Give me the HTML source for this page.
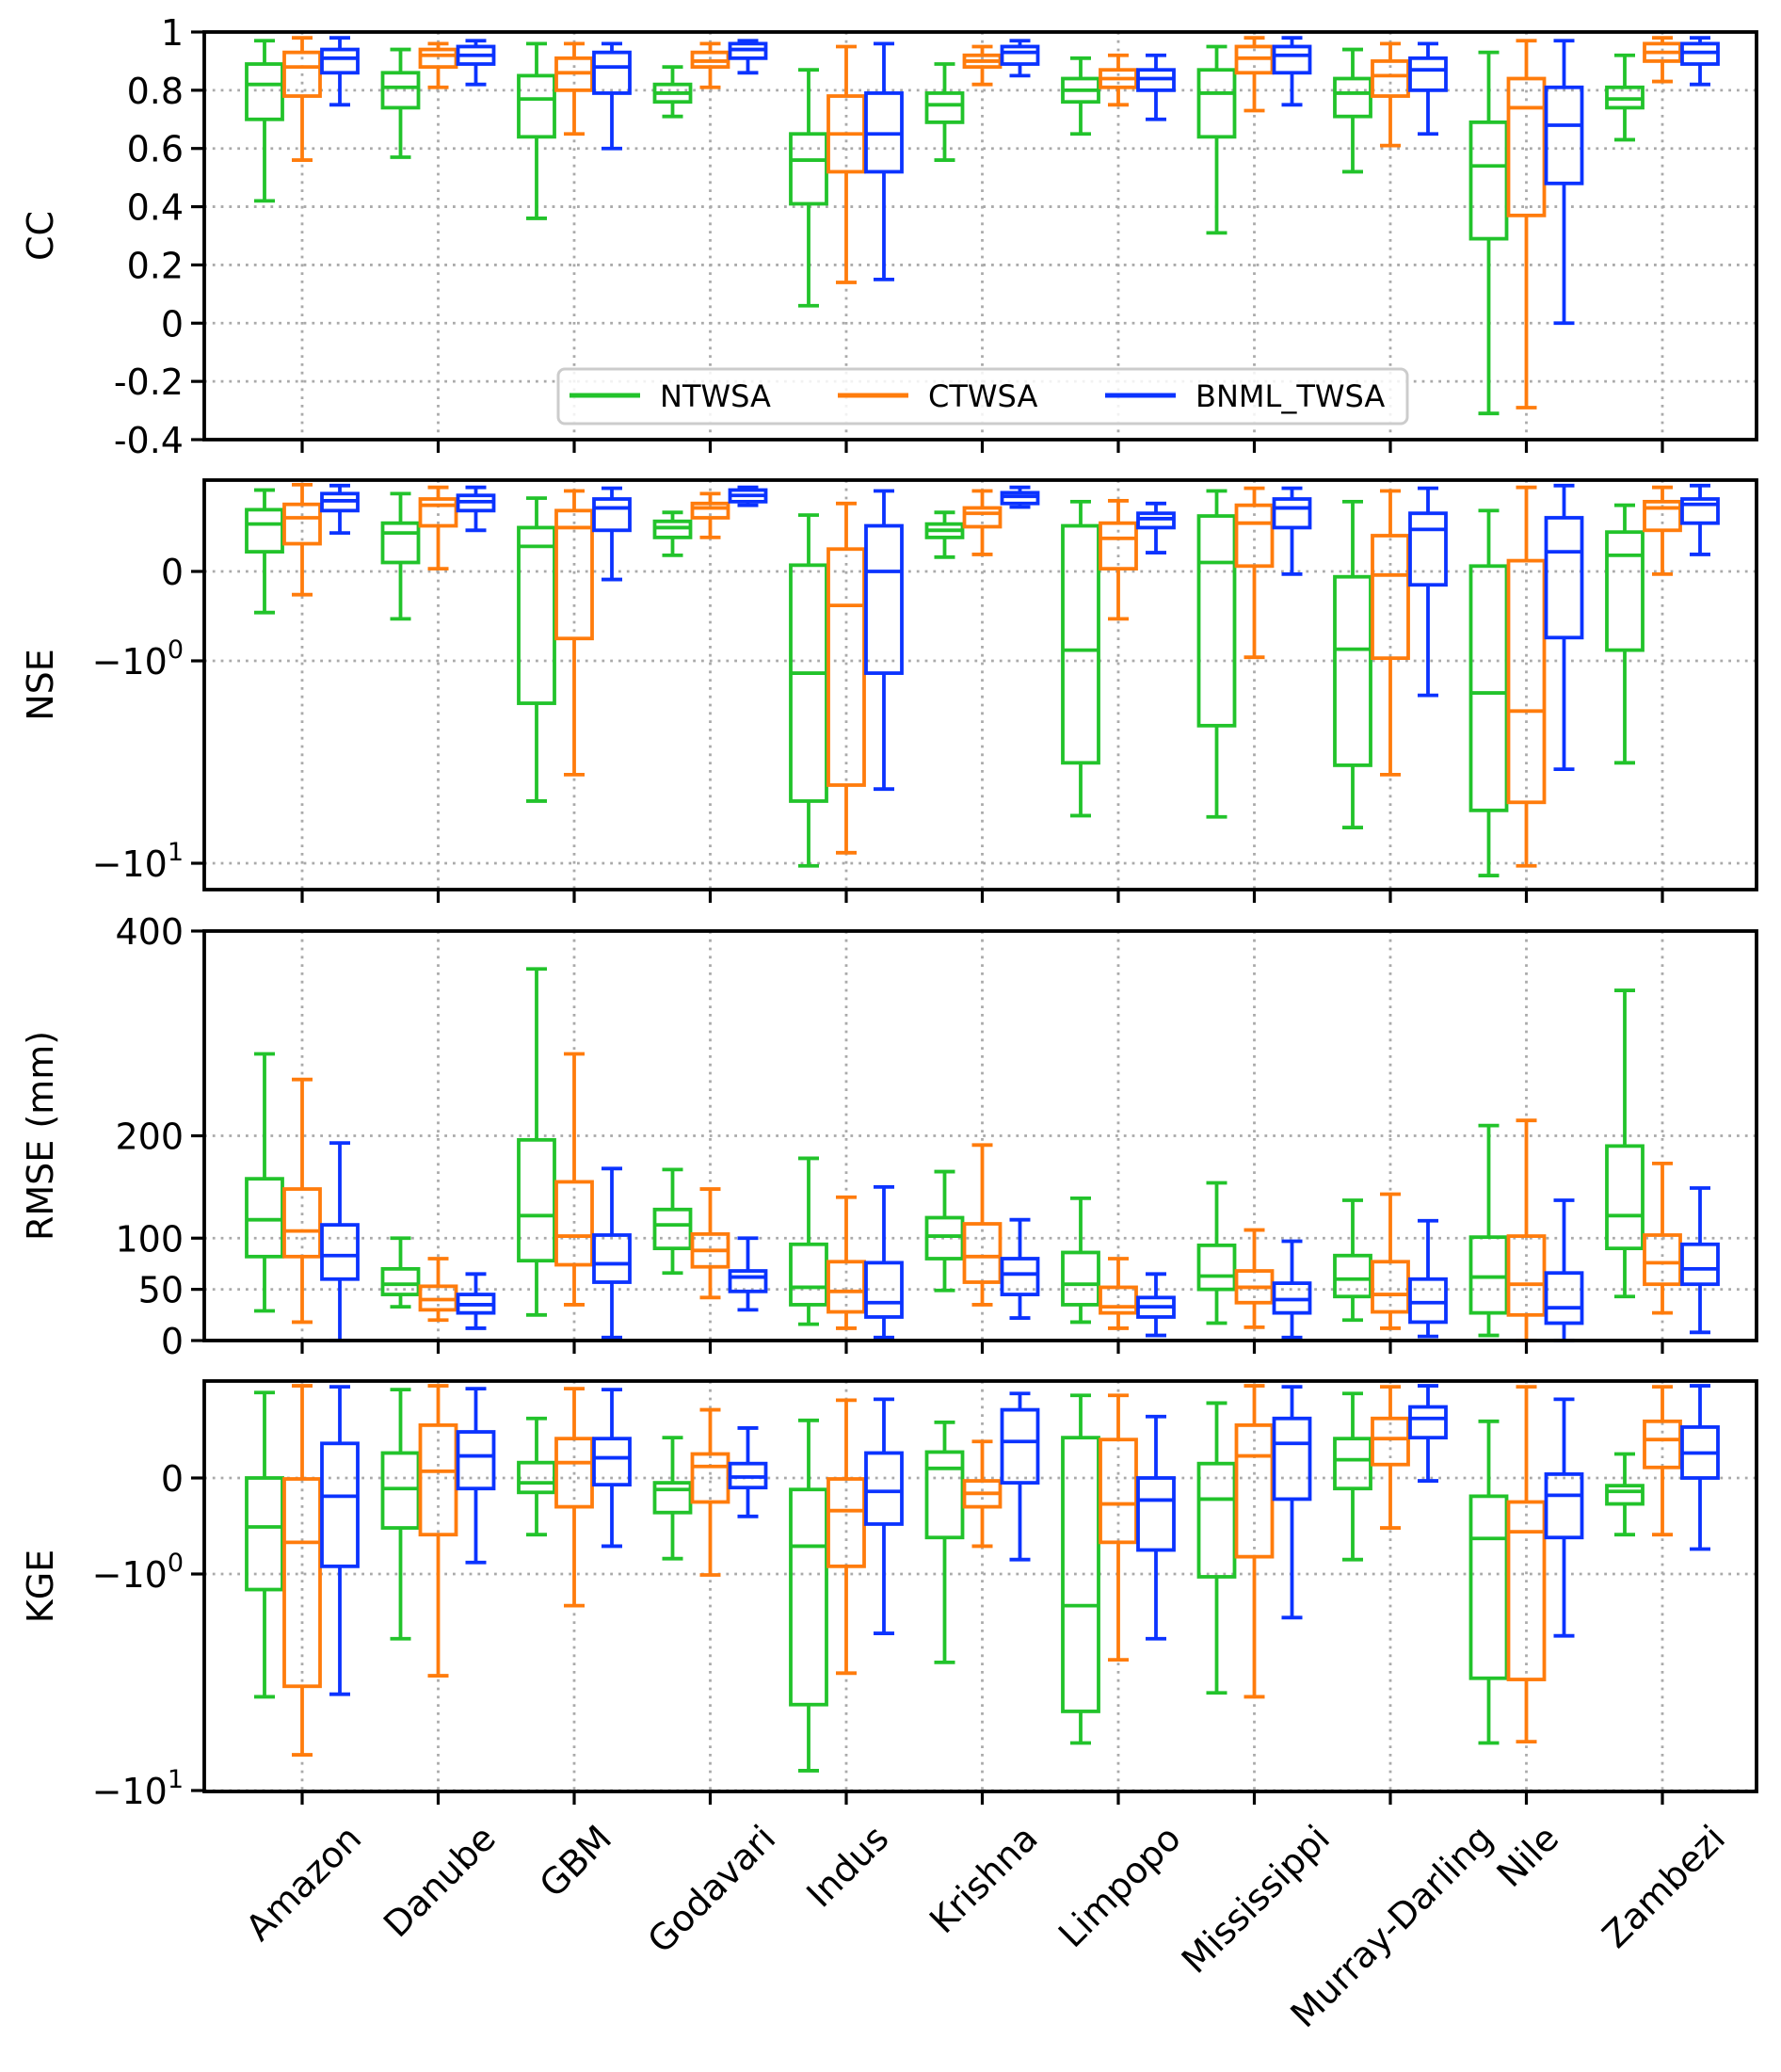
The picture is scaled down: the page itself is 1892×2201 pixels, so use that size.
<!DOCTYPE html>
<html><head><meta charset="utf-8"><style>
html,body{margin:0;padding:0;background:#fff}
svg{display:block;font-family:"DejaVu Sans","Liberation Sans",sans-serif}
</style></head><body>
<svg id="chart" width="1892" height="2201" viewBox="0 0 1892 2201" xmlns="http://www.w3.org/2000/svg"></svg>
<script>
const categories=["Amazon","Danube","GBM","Godavari","Indus","Krishna","Limpopo","Mississippi","Murray-Darling","Nile","Zambezi"];
const seriesNames=["NTWSA","CTWSA","BNML_TWSA"];
// each entry: [whiskerLow, q1, median, q3, whiskerHigh]
const ccNTWSA=[[0.42,0.70,0.82,0.89,0.97],[0.57,0.74,0.81,0.86,0.94],[0.36,0.64,0.77,0.85,0.96],[0.71,0.76,0.79,0.82,0.88],[0.06,0.41,0.56,0.65,0.87],[0.56,0.69,0.75,0.79,0.89],[0.65,0.76,0.80,0.84,0.91],[0.31,0.64,0.79,0.87,0.95],[0.52,0.71,0.79,0.84,0.94],[-0.31,0.29,0.54,0.69,0.93],[0.63,0.74,0.77,0.81,0.92]];
const ccCTWSA=[[0.56,0.78,0.88,0.93,0.98],[0.81,0.88,0.92,0.94,0.96],[0.65,0.80,0.86,0.91,0.96],[0.81,0.88,0.90,0.93,0.96],[0.14,0.52,0.65,0.78,0.95],[0.82,0.88,0.90,0.92,0.95],[0.75,0.81,0.84,0.87,0.92],[0.73,0.86,0.91,0.95,0.98],[0.61,0.78,0.85,0.90,0.96],[-0.29,0.37,0.74,0.84,0.97],[0.83,0.90,0.93,0.96,0.98]];
const ccBNML=[[0.75,0.86,0.91,0.94,0.98],[0.82,0.89,0.92,0.95,0.97],[0.60,0.79,0.88,0.93,0.96],[0.86,0.91,0.94,0.96,0.97],[0.15,0.52,0.65,0.79,0.96],[0.85,0.89,0.93,0.95,0.97],[0.70,0.80,0.84,0.87,0.92],[0.75,0.86,0.92,0.95,0.98],[0.65,0.80,0.87,0.91,0.96],[0.00,0.48,0.68,0.81,0.97],[0.82,0.89,0.93,0.96,0.98]];
const nseNTWSA=[[-0.46,0.22,0.53,0.69,0.91],[-0.53,0.10,0.43,0.54,0.87],[-4.93,-1.62,0.28,0.49,0.82],[0.18,0.38,0.49,0.56,0.66],[-10.3,-4.93,-1.15,0.07,0.63],[0.16,0.38,0.46,0.53,0.66],[-5.82,-3.19,-0.88,0.51,0.78],[-5.9,-2.09,0.10,0.62,0.90],[-6.66,-3.28,-0.87,-0.06,0.78],[-11.5,-5.48,-1.44,0.06,0.68],[-3.19,-0.88,0.18,0.44,0.74]];
const nseCTWSA=[[-0.26,0.31,0.60,0.75,0.97],[0.03,0.51,0.74,0.81,0.94],[-3.65,-0.75,0.49,0.68,0.90],[0.38,0.60,0.71,0.76,0.87],[-8.87,-4.11,-0.38,0.25,0.76],[0.19,0.50,0.65,0.71,0.90],[-0.53,0.03,0.37,0.54,0.79],[-0.96,0.06,0.54,0.74,0.93],[-3.65,-0.97,-0.04,0.40,0.90],[-10.3,-5.0,-1.77,0.12,0.94],[-0.03,0.46,0.71,0.78,0.94]];
const nseBNML=[[0.43,0.68,0.79,0.87,0.96],[0.46,0.68,0.78,0.85,0.94],[-0.09,0.46,0.71,0.81,0.93],[0.74,0.78,0.85,0.91,0.94],[-4.30,-1.15,0.0,0.51,0.90],[0.72,0.76,0.84,0.88,0.94],[0.21,0.49,0.59,0.65,0.76],[-0.03,0.49,0.71,0.81,0.93],[-1.48,-0.15,0.47,0.65,0.93],[-3.43,-0.74,0.22,0.60,0.96],[0.19,0.54,0.75,0.81,0.96]];
const rmseNTWSA=[[29,82,118,158,280],[33,45,55,70,100],[25,78,122,196,363],[66,90,113,128,167],[16,35,52,94,178],[49,80,102,120,165],[18,35,55,86,139],[17,50,63,93,154],[20,43,60,83,137],[5,27,62,101,210],[43,90,122,190,342]];
const rmseCTWSA=[[18,82,107,148,255],[20,30,40,53,80],[35,74,102,155,280],[42,72,88,104,148],[12,28,48,77,140],[35,57,82,114,191],[12,27,33,52,80],[13,37,52,68,108],[12,28,45,77,143],[0,25,55,102,215],[27,55,76,103,173]];
const rmseBNML=[[0,60,83,113,193],[12,27,35,45,65],[3,57,75,103,168],[30,48,62,68,100],[3,23,37,76,150],[22,45,65,80,118],[5,23,33,42,65],[3,27,40,56,97],[4,18,37,60,117],[0,17,32,66,137],[8,55,70,94,149]];
const kgeNTWSA=[[-3.69,-1.18,-0.51,0,0.89],[-1.99,-0.52,-0.11,0.26,0.92],[-0.59,-0.15,-0.05,0.16,0.62],[-0.84,-0.36,-0.12,-0.05,0.42],[-8.1,-4.01,-0.71,-0.12,0.60],[-2.56,-0.62,0.10,0.27,0.58],[-6.03,-4.31,-1.40,0.42,0.86],[-3.54,-1.03,-0.22,0.15,0.78],[-0.85,-0.11,0.19,0.41,0.88],[-6.03,-3.03,-0.63,-0.19,0.59],[-0.59,-0.27,-0.14,-0.08,0.25]];
const kgeCTWSA=[[-6.84,-3.30,-0.67,-0.01,0.96],[-2.95,-0.59,0.07,0.55,0.96],[-1.40,-0.30,0.16,0.41,0.93],[-1.01,-0.25,0.12,0.25,0.71],[-2.87,-0.92,-0.34,-0.01,0.81],[-0.71,-0.30,-0.16,-0.03,0.38],[-2.49,-0.67,-0.27,0.40,0.86],[-3.69,-0.82,0.23,0.55,0.96],[-0.52,0.14,0.41,0.62,0.95],[-5.95,-3.07,-0.56,-0.25,0.95],[-0.59,0.11,0.40,0.59,0.95]];
const kgeBNML=[[-3.59,-0.92,-0.19,0.36,0.95],[-0.88,-0.11,0.23,0.48,0.93],[-0.71,-0.07,0.21,0.41,0.92],[-0.40,-0.10,0.01,0.15,0.52],[-1.88,-0.48,-0.14,0.26,0.82],[-0.85,-0.05,0.38,0.71,0.88],[-1.99,-0.75,-0.23,0,0.64],[-1.59,-0.22,0.36,0.62,0.95],[-0.03,0.42,0.62,0.74,0.96],[-1.93,-0.62,-0.18,0.04,0.82],[-0.74,0,0.26,0.53,0.96]];
const ccTicks=[1,0.8,0.6,0.4,0.2,0,-0.2,-0.4];
const ccTickLabels=["1","0.8","0.6","0.4","0.2","0","-0.2","-0.4"];
const rmseTicks=[0,50,100,200,400];
const rmseTickLabels=["0","50","100","200","400"];
const symTicks=[0,-1,-10];

const NS="http://www.w3.org/2000/svg";
const svg=document.getElementById('chart');
const colors=["#22c32b","#ff7c0c","#0b33ff"];
const L=217,R=1866;
function mk(tag,attrs,parent){const e=document.createElementNS(NS,tag);for(const k in attrs)e.setAttribute(k,attrs[k]);(parent||svg).appendChild(e);return e;}
function xCat(i){return 321+i*144.5;}
function symlog(y0,unit,dec){return v=>{if(v>=-1)return y0-v*unit;return y0+unit+dec*Math.log10(-v);};}
const panels=[
 {name:"cc",label:"CC",top:34,bot:467,y:v=>34+(1-v)*(433/1.4),ticks:ccTicks,labels:ccTickLabels,data:[ccNTWSA,ccCTWSA,ccBNML]},
 {name:"nse",label:"NSE",top:510,bot:945,y:symlog(607,95,215),ticks:symTicks,sym:true,data:[nseNTWSA,nseCTWSA,nseBNML]},
 {name:"rmse",label:"RMSE (mm)",top:989,bot:1424,y:v=>1424-v*(435/400),ticks:rmseTicks,labels:rmseTickLabels,data:[rmseNTWSA,rmseCTWSA,rmseBNML]},
 {name:"kge",label:"KGE",top:1467,bot:1903,y:symlog(1570,102,230),ticks:symTicks,sym:true,data:[kgeNTWSA,kgeCTWSA,kgeBNML]}
];
const offs=[-40,0,40],bw=38,cw=22,lw=3.8;
panels.forEach(p=>{
  const g=mk('g',{});
  
  
  p.ticks.forEach(t=>{const y=p.y(t);if(y<p.top-1||y>p.bot+1)return;
    const gl=mk('line',{x1:L,x2:R,y1:y,y2:y,stroke:'#aaa','stroke-width':2.8,'stroke-dasharray':'2.8 6'},g);
    });
  categories.forEach((c,i)=>{const x=xCat(i);
    const gl=mk('line',{x1:x,x2:x,y1:p.top,y2:p.bot,stroke:'#aaa','stroke-width':2.8,'stroke-dasharray':'2.8 6'},g);
    
    const tk=mk('line',{x1:x,x2:x,y1:p.bot,y2:p.bot+14,stroke:'#000','stroke-width':3.2},g);
    });
  p.data.forEach((ser,s)=>{ser.forEach((d,i)=>{
    const x=xCat(i)+offs[s],col=colors[s];
    const bg=mk('g',{stroke:col,'stroke-width':lw,fill:'none'},g);
    
    
    const [lo,q1,md,q3,hi]=d.map(p.y);
    mk('line',{x1:x,x2:x,y1:hi,y2:q3},bg);mk('line',{x1:x,x2:x,y1:q1,y2:lo},bg);
    mk('line',{x1:x-cw/2,x2:x+cw/2,y1:hi,y2:hi},bg);mk('line',{x1:x-cw/2,x2:x+cw/2,y1:lo,y2:lo},bg);
    mk('rect',{x:x-bw/2,y:q3,width:bw,height:Math.max(q1-q3,0.5)},bg);
    mk('line',{x1:x-bw/2,x2:x+bw/2,y1:md,y2:md},bg);
  });});
  const fr=mk('rect',{x:L,y:p.top,width:R-L,height:p.bot-p.top,fill:'none',stroke:'#000','stroke-width':3.8},g);
  
  p.ticks.forEach((t,k)=>{const y=p.y(t);
    const tk=mk('line',{x1:L-14,x2:L,y1:y,y2:y,stroke:'#000','stroke-width':3.2},g);
    
    const tx=mk('text',{x:L-22,y:y+14,'text-anchor':'end','font-size':38,fill:'#000'},g);
    
    if(p.sym&&t!==0){tx.textContent='−10';const sp=mk('tspan',{dy:-17,'font-size':27},tx);sp.textContent=(t===-1?'0':'1');}
    else if(p.sym){tx.textContent='0';}
    else tx.textContent=p.labels[k];
  });
  const yl=mk('text',{x:0,y:0,'text-anchor':'middle','font-size':38,transform:`translate(56 ${(p.top+p.bot)/2}) rotate(-90)`},g);
  
  yl.textContent=p.label;
});
categories.forEach((c,i)=>{
  const t=mk('text',{x:0,y:0,'text-anchor':'middle','font-size':38,fill:'#000'});
  
  
  t.textContent=c;
  const w=t.getComputedTextLength(),h=30;
  const bh=(w+h)/Math.SQRT2;
  const cy=1934+bh/2;
  t.setAttribute('transform',`translate(${xCat(i)} ${cy}) rotate(-45) translate(0 ${h/2})`);
});
const lg=mk('g',{});

mk('rect',{x:593,y:392,width:902,height:58,rx:7,fill:'#fff','fill-opacity':0.85,stroke:'#ccc','stroke-width':3},lg);
const lx=[605,890,1174];
seriesNames.forEach((n,s)=>{
  const e=mk('g',{},lg);
  
  
  mk('line',{x1:lx[s],x2:lx[s]+75,y1:420,y2:420,stroke:colors[s],'stroke-width':5},e);
  const t=mk('text',{x:lx[s]+96,y:432,'font-size':32,fill:'#000'},e);t.textContent=n;
});
</script>
</body></html>
